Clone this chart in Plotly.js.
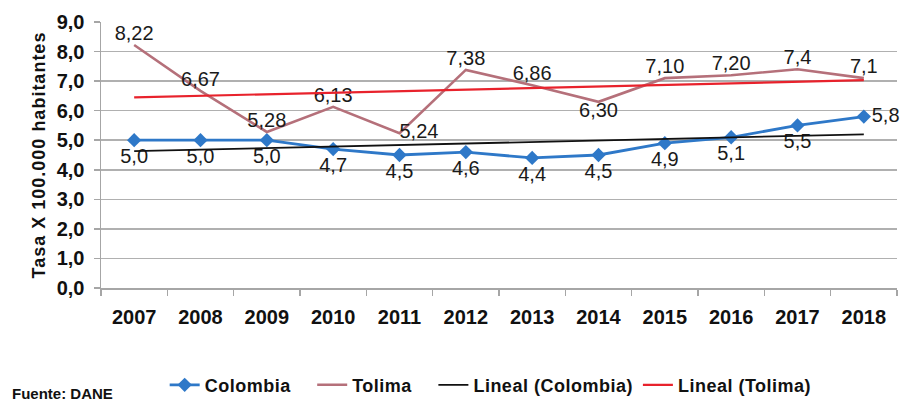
<!DOCTYPE html>
<html>
<head>
<meta charset="utf-8">
<script src="https://cdn.plot.ly/plotly-3.0.1.min.js"></script>
<style>
html,body{margin:0;padding:0;background:#fff;}
#chart{width:910px;height:401px;}
.legendtext{letter-spacing:0.5px;}
.ytitle{letter-spacing:1px;}
</style>
</head>
<body>
<div id="chart"></div>
<script>
const years = ['2007','2008','2009','2010','2011','2012','2013','2014','2015','2016','2017','2018'];
const colombia = [5.0,5.0,5.0,4.7,4.5,4.6,4.4,4.5,4.9,5.1,5.5,5.8];
const colombiaLabels = ['5,0','5,0','5,0','4,7','4,5','4,6','4,4','4,5','4,9','5,1','5,5','5,8'];
const tolima = [8.22,6.67,5.28,6.13,5.24,7.38,6.86,6.30,7.10,7.20,7.4,7.1];
const tolimaLabels = ['8,22','6,67','5,28','6,13','5,24','7,38','6,86','6,30','7,10','7,20','7,4','7,1'];
const trendYears = ['2007','2018'];
const colombiaTrend = [4.63,5.20];
const tolimaTrend = [6.45,7.03];

const colPos = colombia.map((v,i)=> i===colombia.length-1 ? 'middle right' : 'bottom center');
const tolPos = tolima.map((v,i)=> i===4 ? 'middle right' : (i===7 ? 'bottom center' : 'top center'));

const FF = 'Liberation Sans, Arial, sans-serif';
const labelFont = {family:FF, size:20, color:'#1a1a1a'};
const NB = '\u00a0\u00a0\u00a0';

const traces = [
  {x:years, y:colombia, name:'Colombia'+NB, type:'scatter', mode:'lines+markers+text',
   line:{color:'#2E78C8', width:2.8}, marker:{symbol:'diamond', size:11, color:'#2E78C8'},
   text:colombiaLabels, textposition:colPos, textfont:labelFont, cliponaxis:false},
  {x:years, y:tolima, name:'Tolima'+NB, type:'scatter', mode:'lines+text',
   line:{color:'#B5707A', width:2.6},
   text:tolimaLabels, textposition:tolPos, textfont:labelFont, cliponaxis:false},
  {x:trendYears, y:colombiaTrend, name:'Lineal (Colombia)', type:'scatter', mode:'lines',
   line:{color:'#111111', width:1.8}},
  {x:trendYears, y:tolimaTrend, name:'Lineal (Tolima)', type:'scatter', mode:'lines',
   line:{color:'#E8222C', width:2.2}}
];

const layout = {
  width:910, height:401,
  margin:{l:101, r:13, t:22, b:113, autoexpand:false},
  paper_bgcolor:'#fff', plot_bgcolor:'#fff',
  separators:',.',
  showlegend:true,
  font:{family:FF, color:'#111'},
  xaxis:{type:'category', range:[-0.5,11.5], tickson:'boundaries', ticks:'outside', ticklen:6,
    tickcolor:'#A6A6A6', tickwidth:1.5, showline:true, linecolor:'#A6A6A6', linewidth:1.5,
    showgrid:false, zeroline:false, fixedrange:true, ticklabelstandoff:10,
    tickfont:{family:FF, size:20, color:'#111', weight:'bold'}},
  yaxis:{range:[0,9], dtick:1, tickformat:'.1f', ticks:'outside', ticklen:6,
    tickcolor:'#A6A6A6', tickwidth:1.5, showline:true, linecolor:'#A6A6A6', linewidth:1.5,
    showgrid:true, gridcolor:'#B0B0B0', gridwidth:1.5, zeroline:false, ticklabelstandoff:5,
    tickfont:{family:FF, size:20, color:'#111', weight:'bold'},
    title:{text:'Tasa X 100.000 habitantes', standoff:6,
      font:{family:FF, size:18, color:'#111', weight:'bold'}}},
  legend:{orientation:'h', x:0.08, xanchor:'left', y:-0.365, yanchor:'middle',
    font:{family:FF, size:18, color:'#111', weight:'bold'},
    bgcolor:'rgba(0,0,0,0)'},
  annotations:[{text:'Fuente: DANE', xref:'paper', yref:'paper', x:-0.114, xanchor:'left',
    y:-0.395, yanchor:'middle', showarrow:false,
    font:{family:FF, size:15, color:'#111', weight:'bold'}}]
};

Plotly.newPlot('chart', traces, layout, {displayModeBar:false, staticPlot:true});
</script>
</body>
</html>
